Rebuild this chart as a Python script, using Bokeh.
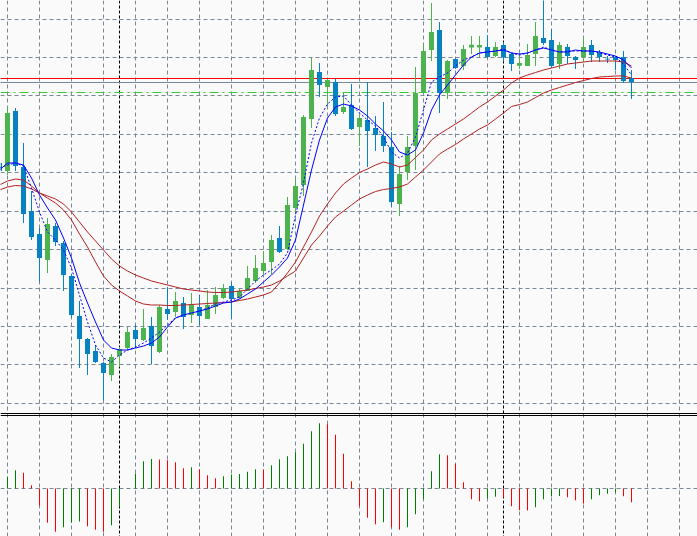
from bokeh.plotting import figure
from bokeh.models import Range1d, Span, ColumnDataSource
from bokeh.embed import file_html
from bokeh.resources import INLINE

# ---------------- data (price in chart points) ----------------
bars = list(range(-1, 79))
open_ = [337, 329, 389, 333, 289, 266, 240, 274, 257, 224, 184, 161, 149, 137, 125, 144, 152, 170, 160, 174,
         148, 191, 188, 197, 185, 193, 181, 193, 202, 214, 202, 209, 219, 229, 238, 262, 251, 292, 315, 381,
         428, 413, 418, 388, 395, 373, 380, 372, 364, 353, 296, 328, 354, 408, 450, 470, 407, 441, 434, 452.5,
         452.5, 453, 444, 455, 446, 434.3, 434, 446, 462, 460, 436, 453, 443, 443, 455, 447, 441.3, 443, 443, 422]
high = [340, 393, 392, 357, 309, 272, 282, 277, 259, 226, 199, 162, 155, 138, 146, 153, 173, 175, 191, 183,
        195, 213, 208, 203, 207, 205, 210, 213, 216, 218, 212, 234, 245, 249, 265, 274, 303, 322, 385, 443,
        437, 421, 421, 407, 416, 385, 418, 384, 398, 368, 334, 364, 433, 455, 497, 478, 440, 442, 455, 464,
        464, 465, 458, 458, 447, 447, 456, 478, 503, 471, 458, 456, 444, 462, 460, 450, 444, 444, 449, 430]
low = [325, 325, 329, 277, 260, 218, 227, 254, 209, 182, 132, 125, 137, 100, 119, 133, 150, 152, 159, 136,
       147, 180, 183, 171, 177, 175, 181, 186, 201, 181, 201, 209, 217, 225, 226, 247, 250, 288, 304, 372,
       403, 394, 384, 386, 370, 354, 333, 349, 348, 293, 284, 320, 330, 407, 439, 387, 401, 431, 430, 446,
       443, 442, 443, 438.5, 429, 431, 434, 434, 455, 432, 431, 436, 431, 438, 438, 438, 437, 430, 417, 401]
close = [329, 387, 334, 286, 263, 242, 276, 258, 225, 185, 161, 146, 138, 127, 143, 151, 168, 161, 172, 154,
         193, 186, 199, 183, 195, 184, 195, 205, 212, 201, 209, 222, 232, 237, 260, 248, 295, 314, 383, 430,
         415, 420, 386, 393, 371, 382, 369, 365, 354, 298, 326, 353, 407, 449, 468, 407, 439, 432, 451, 455.3,
         455, 443, 453, 442.5, 436, 437, 445, 464, 457, 434, 455, 444, 440, 453, 445, 443, 440.5, 440, 419, 418]

# moving averages
ma_fast = [330, 337, 337, 335, 322, 305, 292, 280, 262, 242, 217, 197, 178, 160, 152, 150, 150, 152, 154, 157,
           163, 173, 182, 185, 187, 189, 191, 194, 197, 198, 201, 206, 211, 218, 225, 233, 242, 260, 295, 330,
           360, 382, 393, 396, 394, 390, 384, 376, 369, 360, 348, 345, 350, 367, 390, 405, 415, 425, 435, 443,
           447, 448, 449, 450, 447, 446, 447, 450, 452, 450, 448, 448, 450, 449, 449, 448, 446, 444, 440, 432]
ma_fast_dot = [332, 335, 337, 334, 312, 288, 268, 260, 250, 232, 205, 178, 155, 142, 138, 145, 150, 153, 157, 162,
               168, 175, 182, 185, 187, 189, 192, 196, 198, 200, 203, 211, 219, 225, 230, 236, 247, 285, 317, 357,
               382, 396, 403, 404, 395, 387, 380, 374, 363, 348, 342, 347, 363, 390, 418, 423, 427, 434, 440, 443,
               447, 448, 449, 451, 447, 445, 447, 450, 453, 450, 448, 449, 449, 449, 449, 447, 445, 443, 436, 425]
ma_mid = [315, 319, 321, 320, 314, 307, 302, 297, 290, 280, 266, 253, 238, 224, 215, 209, 204, 199, 196, 195,
          195, 194.5, 194.5, 195, 195.5, 196, 196.5, 197, 197.5, 198, 199.5, 201, 203, 205, 208, 217, 227, 238, 253, 268,
          284, 296, 307, 316, 322, 327.5, 331, 335, 338, 336, 333, 335, 342.5, 350, 360, 366, 371, 376, 381, 387,
          393, 398, 404, 410, 417, 422, 425, 427.5, 430, 432, 434, 436, 437, 438, 439, 439, 439, 439, 438, 434]
ma_slow = [310, 313, 314.5, 314, 311, 307, 304, 301, 296, 288, 278, 268, 259, 250, 241, 234, 229, 225, 222, 219,
           217, 215, 213, 211, 210, 209, 208, 207.5, 207.5, 208, 209, 210, 211.5, 213, 215, 219, 224, 229, 242, 255,
           264, 274, 283, 289, 295, 301, 305, 308.5, 310.5, 311.5, 313, 316, 323, 330, 338, 346, 351, 355.5, 361, 366,
           371, 375, 381, 387, 393.5, 395.5, 398, 402.5, 407, 410, 412.5, 415, 417.5, 419.5, 421.5, 423, 423.5, 424, 424, 422]

# lower pane oscillator
osc_bars = list(range(0, 79))
osc = [11.7, 18.3, 15.7, 3.3, -17.0, -34.3, -43.3, -38.7, -34.3, -33.0,
       -37.7, -41.3, -43.3, -36.7, -18.3, 0.3, 14.7, 27.3, 29.5, 29.0,
       28.3, 26.3, 20.3, 21.3, 19.3, 13.3, 10.3, 12.3, 14.0, 14.5,
       16.7, 19.3, 19.0, 23.3, 29.3, 32.3, 36.3, 44.7, 57.3, 65.3,
       64.3, 53.7, 34.7, 7.3, -17.7, -29.3, -35.7, -33.7, -38.7, -41.3,
       -38.7, -25.7, -10.7, 17.3, 34.3, 33.3, 24.7, 6.3, -10.7, -12.7,
       -10.0, -8.3, -9.0, -17.7, -21.7, -22.0, -18.7, -10.7, -8.0, -7.5,
       -8.7, -11.7, -15.0, -10.7, -6.7, -5.3, -3.7, -7.7, -13.7]

price_levels = [480.5, 442.5, 404.5, 365.5, 327.5, 288.5, 250.5, 211.5, 173.5, 135.5, 96.5]
resistance = 421.5
ask_line = 417.5
support = 407.5
separators = [14, 62]

# ---------------- styling ----------------
BG = "#fafafa"
GRID = "#778899"
UP = "#4cb34f"
DOWN = "#0682c2"
X0, X1 = -0.875, 86.25

p = figure(width=697, height=536,
           x_range=Range1d(X0, X1), y_range=Range1d(-36.5, 499.5),
           x_axis_type=None, y_axis_type=None,
           output_backend="svg", toolbar_location=None, min_border=0,
           background_fill_color=BG, border_fill_color=BG, outline_line_color=None)
p.extra_y_ranges = {"osc": Range1d(-48, 488)}

# grid
for gx in range(0, 87, 4):
    p.add_layout(Span(location=gx, dimension="height", line_color=GRID, line_width=1,
                      line_dash="4 3", level="underlay"))
for gy in price_levels:
    p.add_layout(Span(location=gy, dimension="width", line_color=GRID, line_width=1,
                      line_dash="4 3", level="underlay"))
p.add_layout(Span(location=0, dimension="width", y_range_name="osc", line_color=GRID,
                  line_width=1, line_dash="4 3", level="underlay"))

# period separators
for sx in separators:
    p.add_layout(Span(location=sx, dimension="height", line_color="black", line_width=1,
                      line_dash="3 2", level="underlay"))

# horizontal price lines
p.hbar(y=[resistance], height=1, left=X0, right=X1, fill_color="#ff0000", line_color=None)
p.hbar(y=[ask_line], height=1, left=X0, right=X1, fill_color="#778899", line_color=None)
p.add_layout(Span(location=support, dimension="width", line_color="#32cd32", line_width=1,
                  line_dash="9 4 2 4", level="underlay"))

# candles
colors = [UP if c >= o else DOWN for o, c in zip(open_, close)]
src = ColumnDataSource(dict(x=bars, o=open_, h=high, l=low, c=close,
                            top=[max(o, c) for o, c in zip(open_, close)],
                            bottom=[min(o, c) for o, c in zip(open_, close)],
                            color=colors))
p.segment(x0="x", y0="l", x1="x", y1="h", color="color", line_width=1, source=src)
p.vbar(x="x", width=0.625, top="top", bottom="bottom", fill_color="color", line_color=None, source=src)

# moving averages
p.line(bars, ma_slow, line_color="#b22222", line_width=1)
p.line(bars, ma_mid, line_color="#b22222", line_width=1)
p.line(bars, ma_fast_dot, line_color="#0000ff", line_width=1, line_dash="2 2")
p.line(bars, ma_fast, line_color="#0000ff", line_width=1)

# oscillator histogram
osc_colors = []
prev = None
for v in osc:
    osc_colors.append("#008000" if prev is None or v > prev else "#ff0000")
    prev = v
osrc = ColumnDataSource(dict(x=osc_bars,
                             top=[max(v, 0) for v in osc], bottom=[min(v, 0) for v in osc],
                             color=osc_colors))
p.vbar(x="x", width=0.125, top="top", bottom="bottom", fill_color="color", line_color=None,
       y_range_name="osc", source=osrc)

# pane separator (two thin black rules)
p.hbar(y=[86.5, 84.5], height=1, left=X0, right=X1, fill_color="black", line_color=None)

open("out.html", "w").write(file_html(p, INLINE))
